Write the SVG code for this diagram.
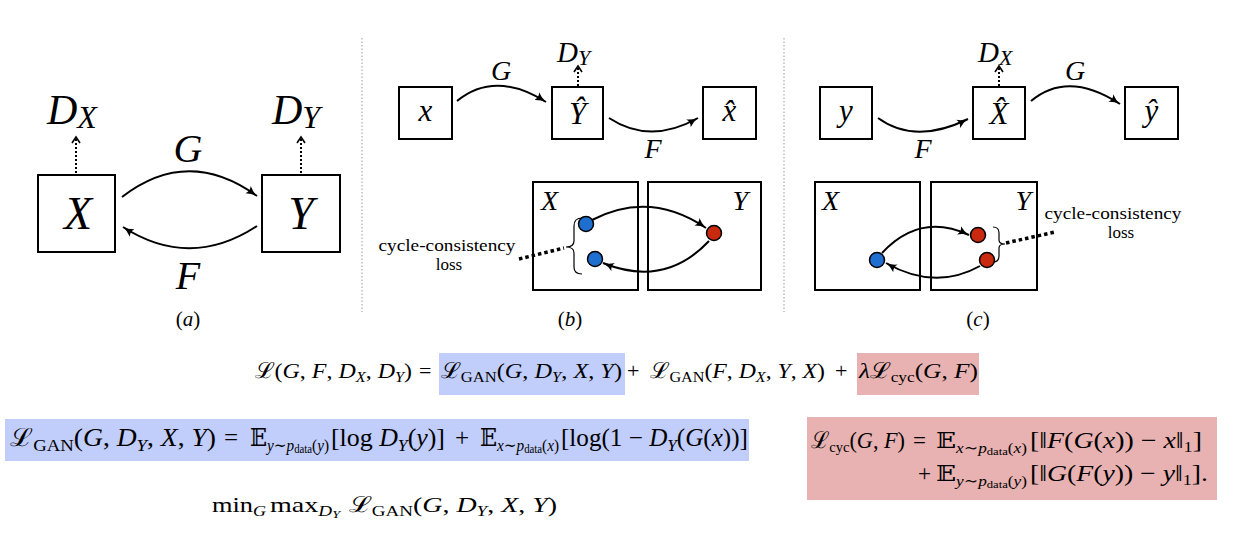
<svg xmlns="http://www.w3.org/2000/svg" width="1243" height="551" viewBox="0 0 1243 551">
<defs>
<style>
text { font-family: "Liberation Serif","DejaVu Serif",serif; fill:#000; }
.i { font-style: italic; }
.box { fill:#fff; stroke:#000; stroke-width:2; }
.arc { fill:none; stroke:#000; stroke-width:2; marker-end:url(#ah); }
.dar { fill:none; stroke:#000; stroke-width:2; stroke-dasharray:2 2; marker-end:url(#ch); }
.sep { stroke:#999; stroke-width:1; stroke-dasharray:1.5 2; }
.brace { fill:none; stroke:#000; stroke-width:1.2; }
.loss { fill:none; stroke:#000; stroke-width:3.5; stroke-dasharray:3.5 3; }
.bd { fill:#1f6fd1; stroke:#000; stroke-width:1.5; }
.rd { fill:#c9290e; stroke:#000; stroke-width:1.5; }
.hb { fill:#c1cdfb; }
.hr { fill:#e8b2b2; }
.eq { font-size:22px; }
.eq2 { font-size:25px; }
.eq3 { font-size:23px; }
.sub { font-size:15px; }
.sub2 { font-size:17px; }
.ss { font-size:11px; }
.ss2 { font-size:12px; }
.lbl { font-size:17px; }
</style>
<marker id="ah" markerWidth="12" markerHeight="10" refX="11" refY="5" orient="auto" markerUnits="userSpaceOnUse"><path d="M0,0.5 Q5,4 11,5 Q5,6 0,9.5 Q3,5 0,0.5Z" fill="#000"/></marker>
<marker id="ch" markerWidth="10" markerHeight="10" refX="7" refY="5" orient="auto" markerUnits="userSpaceOnUse"><path d="M1,1 L7,5 L1,9" fill="none" stroke="#000" stroke-width="1.6"/></marker>
</defs>
<rect width="1243" height="551" fill="#fff"/>

<g id="separators">
<line class="sep" x1="362" y1="38" x2="362" y2="312"/>
<line class="sep" x1="784" y1="38" x2="784" y2="312"/>
</g>

<!-- Panel (a) -->
<g id="a-X"><rect class="box" x="38" y="175" width="77" height="77"/><text x="78" y="229" font-size="46" class="i" text-anchor="middle">X</text></g>
<g id="a-Y"><rect class="box" x="262" y="175" width="78" height="77"/><text x="301" y="229" font-size="46" class="i" text-anchor="middle">Y</text></g>
<g id="a-DX"><text x="47" y="124" font-size="42" class="i">D<tspan font-size="32" dy="4">X</tspan></text></g>
<g id="a-DY"><text x="272" y="124" font-size="42" class="i">D<tspan font-size="32" dy="4">Y</tspan></text></g>
<text x="188" y="162" font-size="40" class="i" text-anchor="middle">G</text>
<text x="188" y="289" font-size="40" class="i" text-anchor="middle">F</text>
<text x="188" y="326" font-size="21" text-anchor="middle">(<tspan class="i">a</tspan>)</text>

<!-- Panel (b) -->
<g id="b-x"><rect class="box" x="399" y="87" width="53" height="52"/><text x="425.5" y="121" font-size="31" class="i" text-anchor="middle">x</text></g>
<g id="b-Yhat"><rect class="box" x="552" y="87" width="51" height="52"/><text x="577.5" y="124" font-size="31" class="i" text-anchor="middle">Ŷ</text></g>
<g id="b-xhat"><rect class="box" x="703" y="87" width="53" height="52"/><text x="729.5" y="121" font-size="31" class="i" text-anchor="middle">x&#x302;</text></g>
<g id="b-DY"><text x="557" y="62" font-size="29" class="i">D<tspan font-size="22" dy="3">Y</tspan></text></g>
<text x="501" y="80" font-size="28" class="i" text-anchor="middle">G</text>
<text x="653" y="158" font-size="28" class="i" text-anchor="middle">F</text>
<g id="b-domX"><rect class="box" x="533" y="182" width="105" height="108"/><text x="541" y="210" font-size="28" class="i">X</text></g>
<g id="b-domY"><rect class="box" x="648" y="182" width="113" height="108"/><text x="748" y="210" font-size="28" class="i" text-anchor="end">Y</text></g>
<g id="b-loss"><text x="447" y="251" class="lbl" text-anchor="middle" textLength="137" lengthAdjust="spacingAndGlyphs">cycle-consistency</text><text x="449" y="270" class="lbl" text-anchor="middle">loss</text></g>
<text x="570" y="326" font-size="21" text-anchor="middle">(<tspan class="i">b</tspan>)</text>

<!-- Panel (c) -->
<g id="c-y"><rect class="box" x="820" y="87" width="52" height="52"/><text x="846" y="121" font-size="31" class="i" text-anchor="middle">y</text></g>
<g id="c-Xhat"><rect class="box" x="973" y="87" width="52" height="52"/><text x="999" y="124" font-size="31" class="i" text-anchor="middle">X&#x302;</text></g>
<g id="c-yhat"><rect class="box" x="1125" y="87" width="53" height="52"/><text x="1151.5" y="121" font-size="31" class="i" text-anchor="middle">ŷ</text></g>
<g id="c-DX"><text x="978" y="62" font-size="29" class="i">D<tspan font-size="22" dy="3">X</tspan></text></g>
<text x="923" y="158" font-size="28" class="i" text-anchor="middle">F</text>
<text x="1075" y="80" font-size="28" class="i" text-anchor="middle">G</text>
<g id="c-domX"><rect class="box" x="815" y="182" width="105" height="108"/><text x="822" y="210" font-size="28" class="i">X</text></g>
<g id="c-domY"><rect class="box" x="931" y="182" width="106" height="108"/><text x="1031" y="210" font-size="28" class="i" text-anchor="end">Y</text></g>
<g id="c-loss"><text x="1113" y="219" class="lbl" text-anchor="middle" textLength="137" lengthAdjust="spacingAndGlyphs">cycle-consistency</text><text x="1121" y="238" class="lbl" text-anchor="middle">loss</text></g>
<text x="978" y="326" font-size="21" text-anchor="middle">(<tspan class="i">c</tspan>)</text>

<g id="connectors">
<path class="arc" d="M122,197 Q188,146 257,196"/>
<path class="arc" d="M257,226 Q190,270 123,227"/>
<path class="dar" d="M76,173 L76,137"/>
<path class="dar" d="M301,173 L301,137"/>
<path class="arc" d="M457,101 Q495,70 546,102"/>
<path class="arc" d="M609,118 Q650,145 698,118"/>
<path class="dar" d="M578,86 L578,66"/>
<path class="arc" d="M592,220 Q650,190 706,228"/>
<path class="arc" d="M709,241 Q665,288 603,263"/>
<path class="loss" d="M519,259 L564,248"/>
<path class="arc" d="M878,118 Q915,145 968,119"/>
<path class="dar" d="M999,86 L999,66"/>
<path class="arc" d="M1031,101 Q1068,70 1120,104"/>
<path class="arc" d="M882,253 Q920,212 969,235"/>
<path class="arc" d="M980,266 Q935,291 886,263"/>
<path class="loss" d="M1006,243 L1055,232"/>
</g>
<g id="braces">
<path class="brace" d="M582,218 Q574,218 574,226 L574,241 Q574,247 566,247 Q574,247 574,253 L574,267 Q574,274 582,274"/>
<path class="brace" d="M993,227 Q999,227 999,233 L999,240 Q999,244 1005,244 Q999,244 999,248 L999,256 Q999,262 993,262"/>
</g>
<g id="points">
<circle class="bd" cx="586" cy="224" r="7.5"/>
<circle class="bd" cx="595" cy="259" r="7.5"/>
<circle class="rd" cx="714" cy="233" r="7.5"/>
<circle class="bd" cx="877" cy="260" r="7.5"/>
<circle class="rd" cx="978" cy="235" r="7.5"/>
<circle class="rd" cx="987" cy="260" r="7.5"/>
</g>

<g id="eq1">
<rect class="hb" x="439" y="353" width="186" height="42"/>
<rect class="hr" x="857" y="353" width="122" height="42"/>
<text class="eq" x="255" y="378" textLength="157" lengthAdjust="spacingAndGlyphs">ℒ(<tspan class="i">G</tspan>, <tspan class="i">F</tspan>, <tspan class="i">D</tspan><tspan class="i sub" dy="4">X</tspan><tspan dy="-4">, </tspan><tspan class="i">D</tspan><tspan class="i sub" dy="4">Y</tspan><tspan dy="-4">)</tspan></text>
<text class="eq" x="419" y="378">=</text>
<text class="eq" x="441" y="378" textLength="181" lengthAdjust="spacingAndGlyphs">ℒ<tspan class="sub" dy="4">GAN</tspan><tspan dy="-4">(</tspan><tspan class="i">G</tspan>, <tspan class="i">D</tspan><tspan class="i sub" dy="4">Y</tspan><tspan dy="-4">, </tspan><tspan class="i">X</tspan>, <tspan class="i">Y</tspan>)</text>
<text class="eq" x="627" y="378">+</text>
<text class="eq" x="650" y="378" textLength="175" lengthAdjust="spacingAndGlyphs">ℒ<tspan class="sub" dy="4">GAN</tspan><tspan dy="-4">(</tspan><tspan class="i">F</tspan>, <tspan class="i">D</tspan><tspan class="i sub" dy="4">X</tspan><tspan dy="-4">, </tspan><tspan class="i">Y</tspan>, <tspan class="i">X</tspan>)</text>
<text class="eq" x="835" y="378">+</text>
<text class="eq" x="859" y="378" textLength="119" lengthAdjust="spacingAndGlyphs"><tspan class="i">λ</tspan>ℒ<tspan class="sub" dy="4">cyc</tspan><tspan dy="-4">(</tspan><tspan class="i">G</tspan>, <tspan class="i">F</tspan>)</text>
</g>

<g id="eq2">
<rect class="hb" x="5" y="419" width="744" height="42"/>
<text class="eq2" x="10" y="446" textLength="206" lengthAdjust="spacingAndGlyphs">ℒ<tspan class="sub2" dy="5">GAN</tspan><tspan dy="-5">(</tspan><tspan class="i">G</tspan>, <tspan class="i">D</tspan><tspan class="i sub2" dy="5">Y</tspan><tspan dy="-5">, </tspan><tspan class="i">X</tspan>, <tspan class="i">Y</tspan>)</text>
<text class="eq2" x="224" y="446">=</text>
<text class="eq2" x="250" y="446" textLength="79" lengthAdjust="spacingAndGlyphs">𝔼<tspan class="sub2 i" dy="5">y</tspan><tspan class="sub2">∼</tspan><tspan class="sub2 i">p</tspan><tspan class="ss2" dy="2">data</tspan><tspan class="sub2" dy="-2">(</tspan><tspan class="sub2 i">y</tspan><tspan class="sub2">)</tspan></text>
<text class="eq2" x="331" y="446" textLength="114" lengthAdjust="spacingAndGlyphs">[log <tspan class="i">D</tspan><tspan class="i sub2" dy="5">Y</tspan><tspan dy="-5">(</tspan><tspan class="i">y</tspan>)]</text>
<text class="eq2" x="455" y="446">+</text>
<text class="eq2" x="480" y="446" textLength="79" lengthAdjust="spacingAndGlyphs">𝔼<tspan class="sub2 i" dy="5">x</tspan><tspan class="sub2">∼</tspan><tspan class="sub2 i">p</tspan><tspan class="ss2" dy="2">data</tspan><tspan class="sub2" dy="-2">(</tspan><tspan class="sub2 i">x</tspan><tspan class="sub2">)</tspan></text>
<text class="eq2" x="561" y="446" textLength="187" lengthAdjust="spacingAndGlyphs">[log(1 − <tspan class="i">D</tspan><tspan class="i sub2" dy="5">Y</tspan><tspan dy="-5">(</tspan><tspan class="i">G</tspan>(<tspan class="i">x</tspan>))]</text>
</g>

<g id="eq3">
<rect class="hr" x="807" y="417" width="410" height="83"/>
<text class="eq3" x="811" y="448" textLength="94" lengthAdjust="spacingAndGlyphs">ℒ<tspan class="sub" dy="4">cyc</tspan><tspan dy="-4">(</tspan><tspan class="i">G</tspan>, <tspan class="i">F</tspan>)</text>
<text class="eq3" x="913" y="448">=</text>
<text class="eq3" x="936" y="448" textLength="91" lengthAdjust="spacingAndGlyphs">𝔼<tspan class="sub i" dy="5">x</tspan><tspan class="sub">∼</tspan><tspan class="sub i">p</tspan><tspan class="ss" dy="2">data</tspan><tspan class="sub" dy="-2">(</tspan><tspan class="sub i">x</tspan><tspan class="sub">)</tspan></text>
<text class="eq3" x="1030" y="448" textLength="172" lengthAdjust="spacingAndGlyphs">[‖<tspan class="i">F</tspan>(<tspan class="i">G</tspan>(<tspan class="i">x</tspan>)) − <tspan class="i">x</tspan>‖<tspan class="sub" dy="4">1</tspan><tspan dy="-4">]</tspan></text>
<text class="eq3" x="918" y="481">+</text>
<text class="eq3" x="936" y="481" textLength="91" lengthAdjust="spacingAndGlyphs">𝔼<tspan class="sub i" dy="5">y</tspan><tspan class="sub">∼</tspan><tspan class="sub i">p</tspan><tspan class="ss" dy="2">data</tspan><tspan class="sub" dy="-2">(</tspan><tspan class="sub i">y</tspan><tspan class="sub">)</tspan></text>
<text class="eq3" x="1030" y="481" textLength="178" lengthAdjust="spacingAndGlyphs">[‖<tspan class="i">G</tspan>(<tspan class="i">F</tspan>(<tspan class="i">y</tspan>)) − <tspan class="i">y</tspan>‖<tspan class="sub" dy="4">1</tspan><tspan dy="-4">].</tspan></text>
</g>

<g id="eq4">
<text class="eq" x="212" y="512" textLength="54" lengthAdjust="spacingAndGlyphs">min<tspan class="sub i" dy="4">G</tspan></text>
<text class="eq" x="270" y="512" textLength="70" lengthAdjust="spacingAndGlyphs">max<tspan class="sub i" dy="4">D</tspan><tspan class="ss i" dy="2">Y</tspan></text>
<text class="eq" x="349" y="512" textLength="208" lengthAdjust="spacingAndGlyphs">ℒ<tspan class="sub" dy="4">GAN</tspan><tspan dy="-4">(</tspan><tspan class="i">G</tspan>, <tspan class="i">D</tspan><tspan class="i sub" dy="4">Y</tspan><tspan dy="-4">, </tspan><tspan class="i">X</tspan>, <tspan class="i">Y</tspan>)</text>
</g>
</svg>
